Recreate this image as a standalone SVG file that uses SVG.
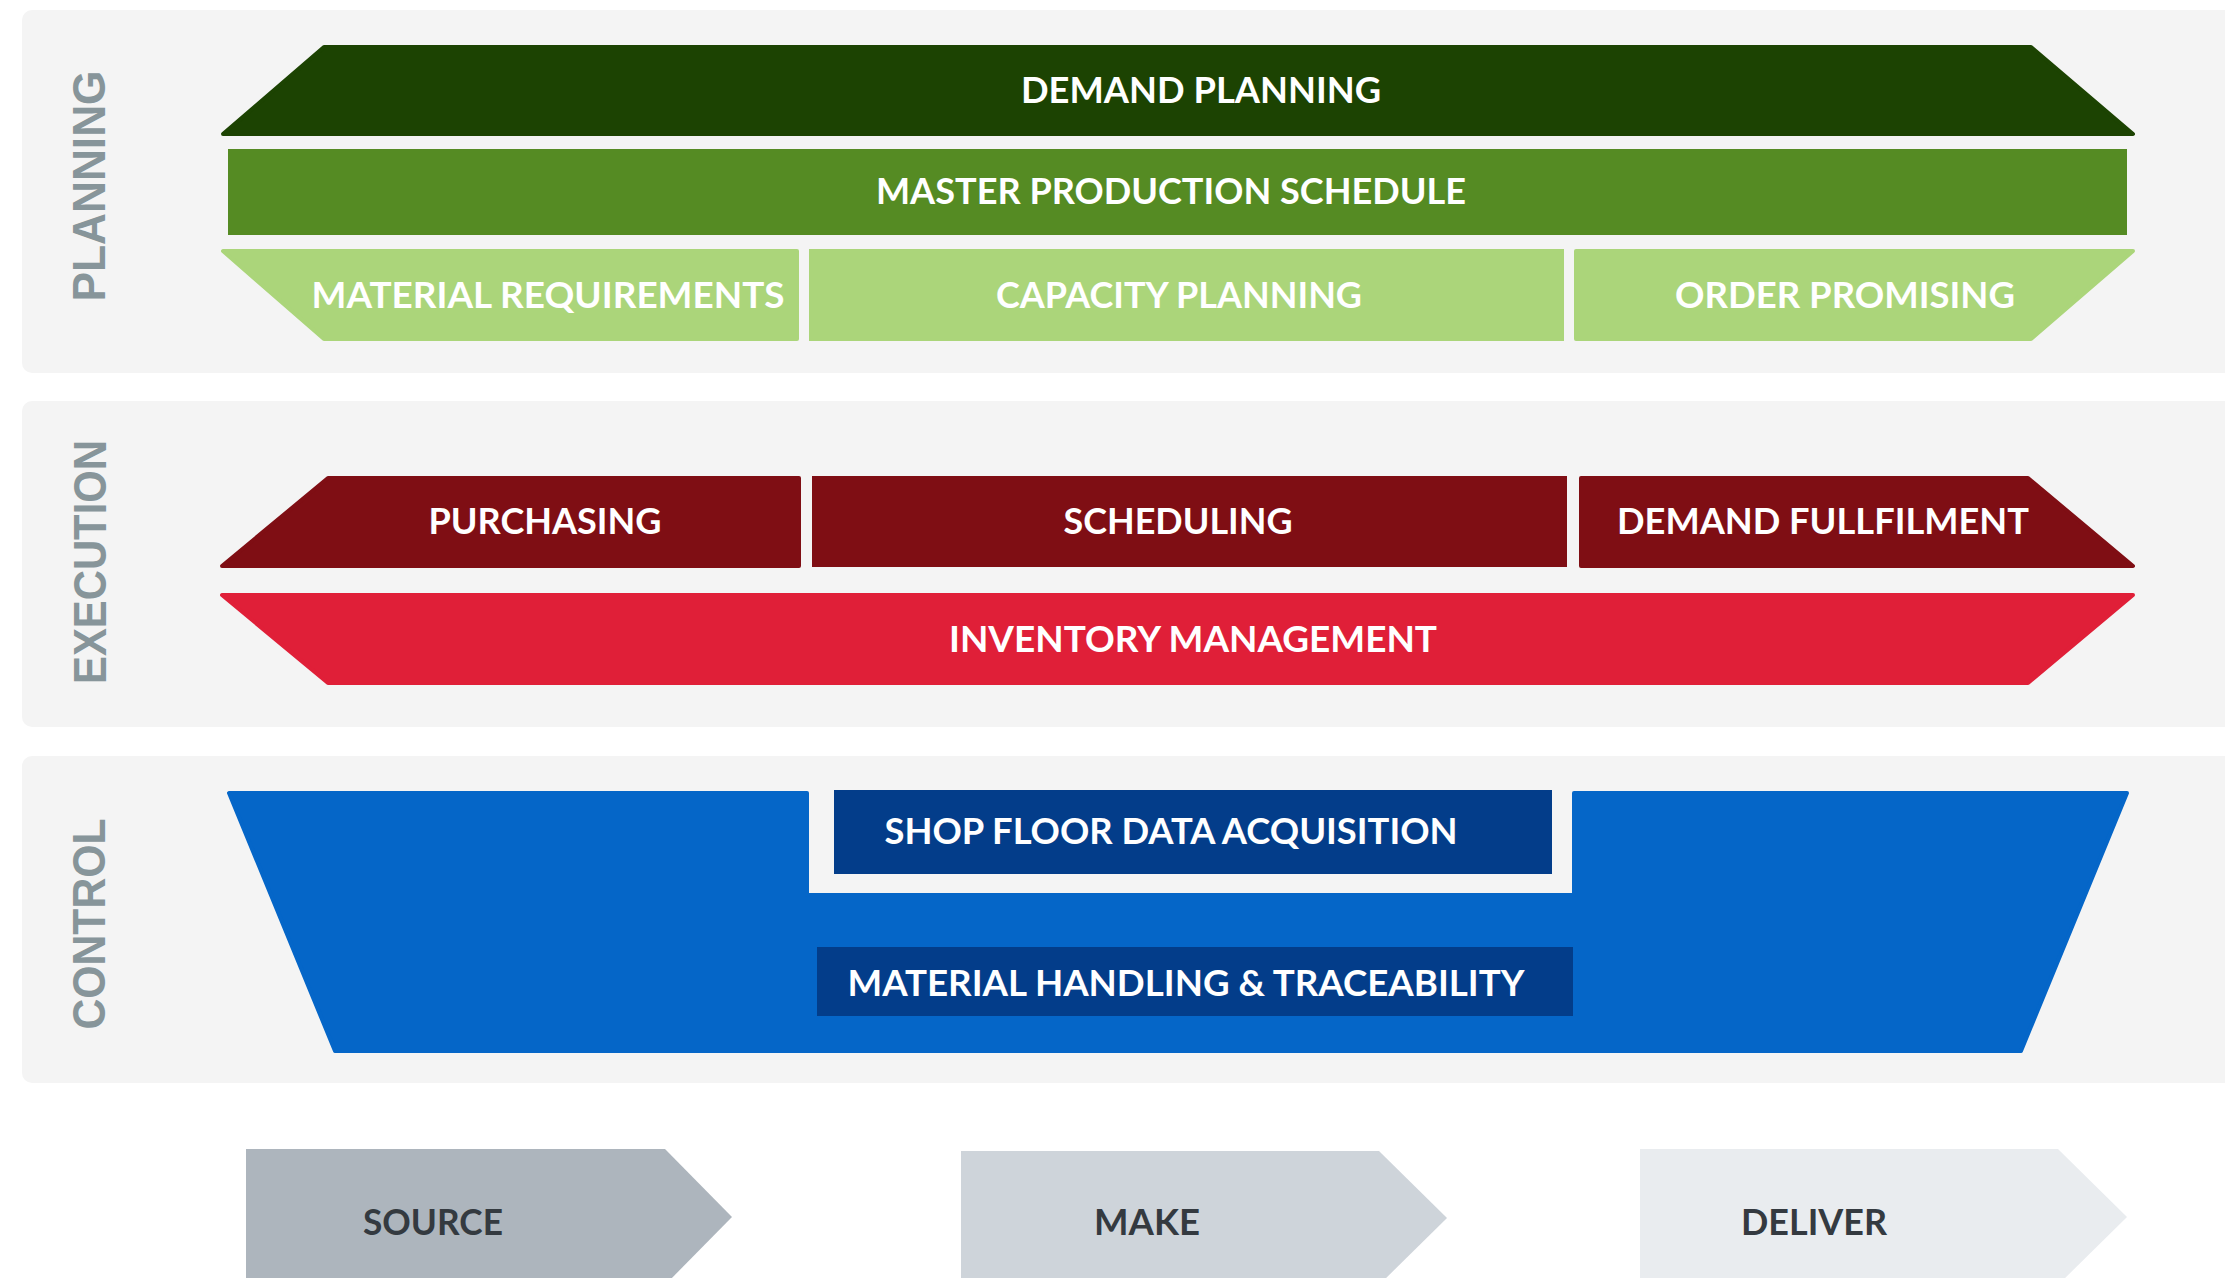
<svg xmlns="http://www.w3.org/2000/svg" width="2225" height="1278" viewBox="0 0 2225 1278">
<style>
.panel{fill:#F4F4F4}
.side{font-family:"Liberation Sans",Arial,sans-serif;font-weight:700;font-size:47px;fill:#87959A}
.lbl{font-family:Lato,"Liberation Sans",sans-serif;font-weight:700;font-size:37px;fill:#FFFFFF;text-anchor:middle}
.lbl2{font-family:Lato,"Liberation Sans",sans-serif;font-weight:700;font-size:37px;fill:#343A40;text-anchor:middle}
.rj{stroke-linejoin:round;stroke-width:4}
</style>
<rect width="2225" height="1278" fill="#FFFFFF"/>
<g id="panels">
<rect class="panel" x="22" y="10" width="2230" height="363" rx="10"/>
<rect class="panel" x="22" y="401" width="2230" height="326" rx="10"/>
<rect class="panel" x="22" y="756" width="2230" height="327" rx="10"/>
<text class="side" transform="translate(105,186) rotate(-90)" text-anchor="middle" textLength="231" lengthAdjust="spacingAndGlyphs">PLANNING</text>
<text class="side" transform="translate(106,562) rotate(-90)" text-anchor="middle" textLength="244" lengthAdjust="spacingAndGlyphs">EXECUTION</text>
<text class="side" transform="translate(105,924) rotate(-90)" text-anchor="middle" textLength="211" lengthAdjust="spacingAndGlyphs">CONTROL</text>
</g>
<g id="demand-planning">
<polygon class="rj" points="223,134 324,47 2031,47 2133,134" fill="#1C4302" stroke="#1C4302"/>
<text class="lbl" x="1201" y="103" textLength="360" lengthAdjust="spacingAndGlyphs">DEMAND PLANNING</text>
</g>
<g id="master-production-schedule">
<rect x="228" y="149" width="1899" height="86" fill="#558B23"/>
<text class="lbl" x="1171" y="204" textLength="590" lengthAdjust="spacingAndGlyphs">MASTER PRODUCTION SCHEDULE</text>
</g>
<g id="material-requirements">
<polygon class="rj" points="223,251 797,251 797,339 324,339" fill="#ABD57A" stroke="#ABD57A"/>
<text class="lbl" x="548" y="308" textLength="473" lengthAdjust="spacingAndGlyphs">MATERIAL REQUIREMENTS</text>
</g>
<g id="capacity-planning">
<rect x="809" y="249" width="755" height="92" fill="#ABD57A"/>
<text class="lbl" x="1179" y="308" textLength="366" lengthAdjust="spacingAndGlyphs">CAPACITY PLANNING</text>
</g>
<g id="order-promising">
<polygon class="rj" points="1576,251 2133,251 2031,339 1576,339" fill="#ABD57A" stroke="#ABD57A"/>
<text class="lbl" x="1845" y="308" textLength="340" lengthAdjust="spacingAndGlyphs">ORDER PROMISING</text>
</g>
<g id="purchasing">
<polygon class="rj" points="222,566 328,478 799,478 799,566" fill="#7F0E14" stroke="#7F0E14"/>
<text class="lbl" x="545" y="534" textLength="233" lengthAdjust="spacingAndGlyphs">PURCHASING</text>
</g>
<g id="scheduling">
<rect x="812" y="476" width="755" height="91" fill="#7F0E14"/>
<text class="lbl" x="1178" y="534" textLength="229" lengthAdjust="spacingAndGlyphs">SCHEDULING</text>
</g>
<g id="demand-fullfilment">
<polygon class="rj" points="1581,478 2028,478 2133,566 1581,566" fill="#7F0E14" stroke="#7F0E14"/>
<text class="lbl" x="1823" y="534" textLength="412" lengthAdjust="spacingAndGlyphs">DEMAND FULLFILMENT</text>
</g>
<g id="inventory-management">
<polygon class="rj" points="222,595 2133,595 2028,683 328,683" fill="#E01F38" stroke="#E01F38"/>
<text class="lbl" x="1193" y="652" textLength="488" lengthAdjust="spacingAndGlyphs">INVENTORY MANAGEMENT</text>
</g>
<g id="control-base">
<path class="rj" d="M229,793 L807,793 L807,895 L1574,895 L1574,793 L2127,793 L2021,1051 L335,1051 Z" fill="#0566C8" stroke="#0566C8"/>
</g>
<g id="shop-floor-data-acquisition">
<rect x="834" y="790" width="718" height="84" fill="#033D8A"/>
<text class="lbl" x="1171" y="844" textLength="573" lengthAdjust="spacingAndGlyphs">SHOP FLOOR DATA ACQUISITION</text>
</g>
<g id="material-handling">
<rect x="817" y="947" width="756" height="69" fill="#033D8A"/>
<text class="lbl" x="1186" y="996" textLength="677" lengthAdjust="spacingAndGlyphs">MATERIAL HANDLING &amp; TRACEABILITY</text>
</g>
<g id="source">
<path d="M246,1149 L665,1149 L732,1217 L665,1285 L246,1285 Z" fill="#ADB5BD"/>
<text class="lbl2" x="433" y="1235" textLength="140" lengthAdjust="spacingAndGlyphs">SOURCE</text>
</g>
<g id="make">
<path d="M961,1151 L1379,1151 L1447,1218 L1379,1285 L961,1285 Z" fill="#CED4DA"/>
<text class="lbl2" x="1147" y="1235" textLength="106" lengthAdjust="spacingAndGlyphs">MAKE</text>
</g>
<g id="deliver">
<path d="M1640,1149 L2058,1149 L2127,1217 L2058,1285 L1640,1285 Z" fill="#E9ECEF"/>
<text class="lbl2" x="1814" y="1235" textLength="146" lengthAdjust="spacingAndGlyphs">DELIVER</text>
</g>
<g id="connectors"/>
</svg>
